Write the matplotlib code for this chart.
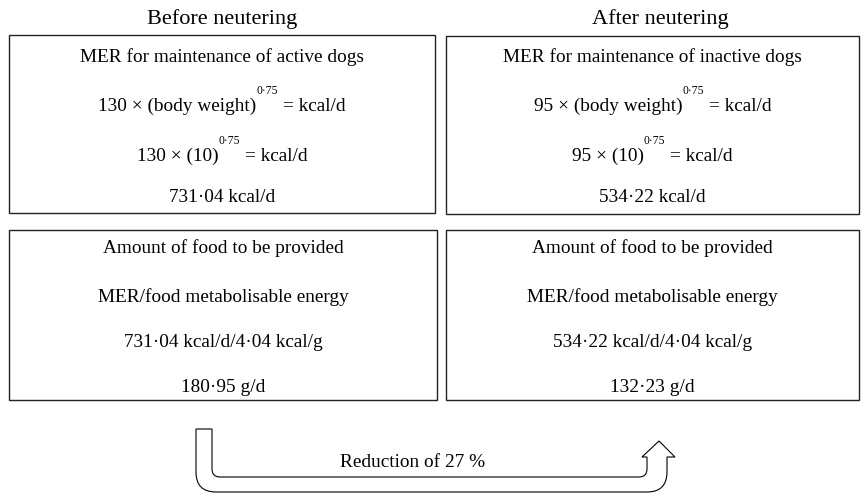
import matplotlib
matplotlib.use("Agg")
from matplotlib import pyplot as plt
from matplotlib.patches import Rectangle, PathPatch
from matplotlib.path import Path

plt.rcParams["font.family"] = ["Liberation Serif", "DejaVu Serif"]

# values shown in the diagram
stages = ["Before neutering", "After neutering"]
activity = ["active", "inactive"]
merFactor = [130, 95]
bodyWeight = 10
exponent = "0·75"
merValues = [731.04, 534.22]
foodEnergy = 4.04
foodAmount = [180.95, 132.23]
reduction = 27


def dotted(v):
    # journal style decimal point
    return f"{v:.2f}".replace(".", "·")


fig = plt.figure(figsize=(8.62, 4.94), dpi=100)
ax = fig.add_axes([0, 0, 1, 1])
ax.set_xlim(0, 862)
ax.set_ylim(494, 0)
ax.axis("off")
renderer = fig.canvas.get_renderer()

bodySize = 13.9
titleSize = 16


def powerLine(cx, cy, base):
    # base text, raised exponent, then "= kcal/d", centred as one group
    t1 = ax.text(0, cy, base, fontsize=bodySize, ha="left", va="center")
    t2 = ax.text(0, cy - 15, exponent, fontsize=bodySize * 0.6, ha="left", va="center")
    t3 = ax.text(0, cy, "= kcal/d", fontsize=bodySize, ha="left", va="center")
    w = [t.get_window_extent(renderer).width for t in (t1, t2, t3)]
    gaps = [0, 5]
    total = sum(w) + sum(gaps)
    x = cx - total / 2
    t1.set_x(x)
    x += w[0] + gaps[0]
    t2.set_x(x)
    x += w[1] + gaps[1]
    t3.set_x(x)


topBoxes = [(9, 35, 435, 213), (446, 36, 859, 214)]
bottomBoxes = [(9, 230, 437, 400), (446, 230, 859, 400)]
titleX = [222, 660]

for i in range(2):
    x0, y0, x1, y1 = topBoxes[i]
    ax.add_patch(Rectangle((x0, y0), x1 - x0, y1 - y0, fill=False, lw=1.0, ec="#222222"))
    cx = (x0 + x1) / 2
    ax.text(titleX[i], 19, stages[i], fontsize=titleSize, ha="center", va="center")
    ax.text(cx, 57, f"MER for maintenance of {activity[i]} dogs", fontsize=bodySize,
            ha="center", va="center")
    powerLine(cx, 106, f"{merFactor[i]} × (body weight)")
    powerLine(cx, 156, f"{merFactor[i]} × ({bodyWeight})")
    ax.text(cx, 197, f"{dotted(merValues[i])} kcal/d", fontsize=bodySize,
            ha="center", va="center")

    x0, y0, x1, y1 = bottomBoxes[i]
    ax.add_patch(Rectangle((x0, y0), x1 - x0, y1 - y0, fill=False, lw=1.0, ec="#222222"))
    cx = (x0 + x1) / 2
    lines = ["Amount of food to be provided",
             "MER/food metabolisable energy",
             f"{dotted(merValues[i])} kcal/d/{dotted(foodEnergy)} kcal/g",
             f"{dotted(foodAmount[i])} g/d"]
    for txt, y in zip(lines, [248, 297, 342, 387]):
        ax.text(cx, y, txt, fontsize=bodySize, ha="center", va="center")

# U-shaped arrow from the left column to the right column
ro, ri = 20, 8
verts = [
    (196, 429), (196, 492 - ro), (196, 492), (196 + ro, 492),
    (667 - ro, 492), (667, 492), (667, 492 - ro),
    (667, 457), (675, 457), (659, 441), (642, 457), (647, 457),
    (647, 477 - ri), (647, 477), (647 - ri, 477),
    (212 + ri, 477), (212, 477), (212, 477 - ri),
    (212, 429), (196, 429),
]
codes = [
    Path.MOVETO, Path.LINETO, Path.CURVE3, Path.CURVE3,
    Path.LINETO, Path.CURVE3, Path.CURVE3,
    Path.LINETO, Path.LINETO, Path.LINETO, Path.LINETO, Path.LINETO,
    Path.LINETO, Path.CURVE3, Path.CURVE3,
    Path.LINETO, Path.CURVE3, Path.CURVE3,
    Path.LINETO, Path.CLOSEPOLY,
]
ax.add_patch(PathPatch(Path(verts, codes), fc="white", ec="black", lw=0.8))
ax.text(413, 462, f"Reduction of {reduction} %", fontsize=bodySize, ha="center", va="center")

fig.savefig("out.png", dpi=100)
